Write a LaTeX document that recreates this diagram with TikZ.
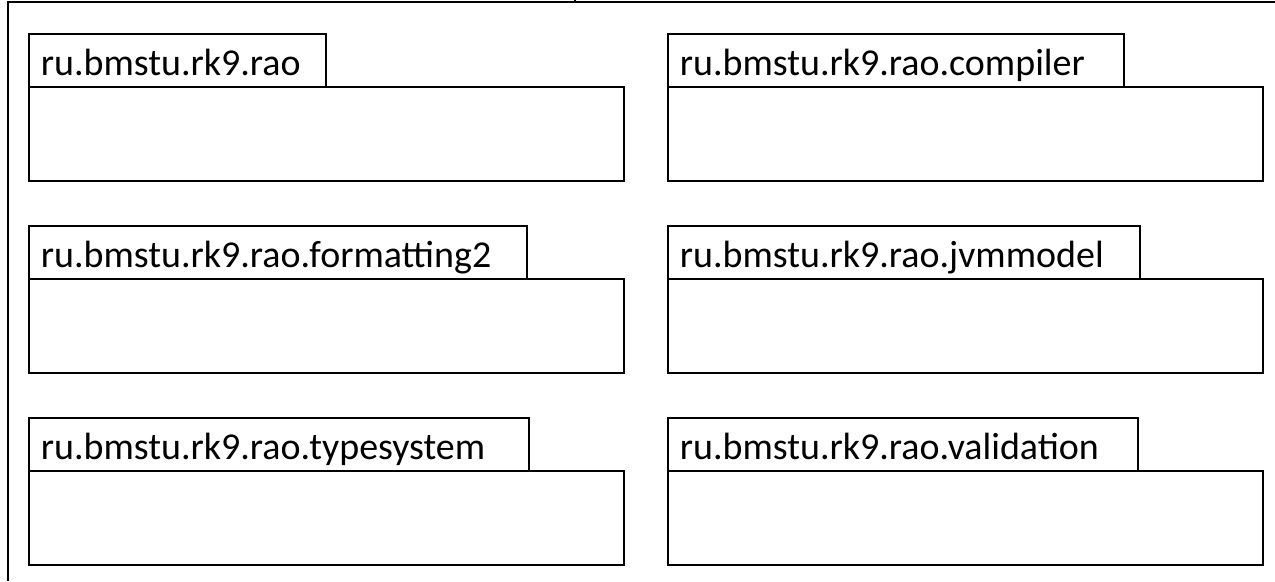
\documentclass[tikz,border=0pt]{standalone}
\usepackage{fontspec}
\setmainfont{Carlito}

\begin{document}
\begin{tikzpicture}[x=0.01cm, y=-0.01cm, line width=0.5pt,
    pkglabel/.style={anchor=base west, inner sep=0pt,
                     font=\fontsize{10.8}{13}\selectfont}]
  \newcommand{\tabh}{53}
  \newcommand{\bodyw}{595}
  \newcommand{\bodyh}{94}
  \newcommand{\pad}{11}

  \useasboundingbox (0,0) rectangle (1275,581);

  % Draws the enclosing package, cut off by the picture
  \draw[line width=0.7pt] (8,581) -- (8,2) -- (1275,2);
  \draw (575,0) -- (575,2);

  % Draws the six packages: tab with name, then the empty body
  \foreach \x/\y/\w/\id/\txt in {
      29/34/297/rao/ru.bmstu.rk9.rao,
      668/34/456/compiler/ru.bmstu.rk9.rao.compiler,
      29/226/498/formatting/ru.bmstu.rk9.rao.formatting2,
      668/226/472/jvmmodel/ru.bmstu.rk9.rao.jvmmodel,
      29/418/500/typesystem/ru.bmstu.rk9.rao.typesystem,
      668/418/470/validation/ru.bmstu.rk9.rao.validation}
  {
    \draw (\x, \y) rectangle ++(\w, \tabh);
    \draw (\x, \y+\tabh) rectangle ++(\bodyw, \bodyh);
    \node[pkglabel] (\id) at (\x+\pad, \y+41) {\txt};
  }
\end{tikzpicture}
\end{document}
